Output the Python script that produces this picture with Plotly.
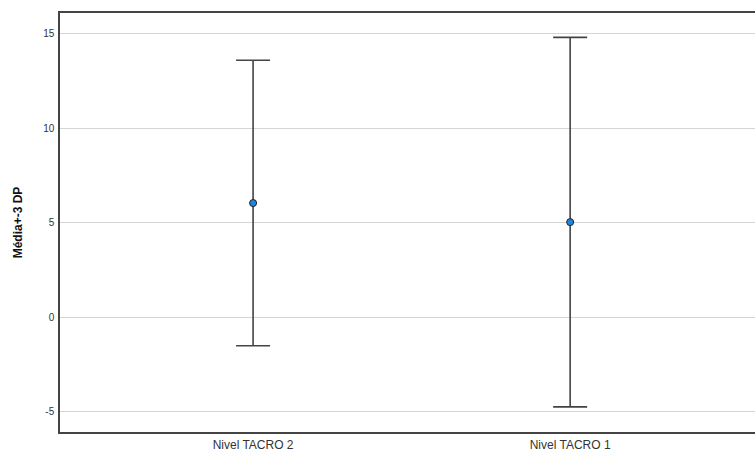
import plotly.graph_objects as go

categories = ["Nivel TACRO 2", "Nivel TACRO 1"]
means = [6.04, 5.03]
upper = [13.59, 14.80]
lower = [-1.51, -4.74]
y_ticks = [-5, 0, 5, 10, 15]

positions = list(range(len(categories)))
err_plus = [u - m for u, m in zip(upper, means)]
err_minus = [m - l for m, l in zip(means, lower)]

fig = go.Figure()
fig.add_trace(go.Scatter(
    x=positions, y=means, mode="markers",
    marker=dict(size=7, color="#1f86e0", line=dict(color="#222222", width=1)),
    error_y=dict(type="data", symmetric=False, array=err_plus, arrayminus=err_minus,
                 color="#444444", thickness=1.6, width=17),
    showlegend=False, hoverinfo="skip",
))

fig.update_layout(
    width=755, height=452,
    margin=dict(l=60, r=0, t=13, b=20, autoexpand=False),
    paper_bgcolor="white", plot_bgcolor="white",
    font=dict(family="Liberation Sans, Arial, sans-serif", color="#222222"),
    xaxis=dict(
        range=[-0.609, 1.583], tickvals=positions, ticktext=categories,
        showgrid=False, zeroline=False, showline=True, linecolor="#444444",
        linewidth=1.5, mirror=True, ticks="outside", ticklen=1, automargin=False,
        tickcolor="rgba(0,0,0,0)", tickfont=dict(size=12, color="#333333"),
    ),
    yaxis=dict(
        range=[-6.07, 16.09], tickvals=y_ticks, ticktext=[str(t) for t in y_ticks],
        showgrid=True, gridcolor="#d4d4d4", gridwidth=1, zeroline=False,
        showline=True, linecolor="#444444", linewidth=1.5, automargin=False,
        ticks="outside", ticklen=2, tickcolor="rgba(0,0,0,0)",
        tickfont=dict(size=10, color="#333333"),
        title=dict(text="<b>Média+-3 DP</b>", font=dict(size=12, color="#111111"), standoff=18),
    ),
)

fig.write_html(
    "out.html",
    config={"displayModeBar": False},
    post_script="document.body.style.margin='0';document.documentElement.style.overflow='hidden';",
)
